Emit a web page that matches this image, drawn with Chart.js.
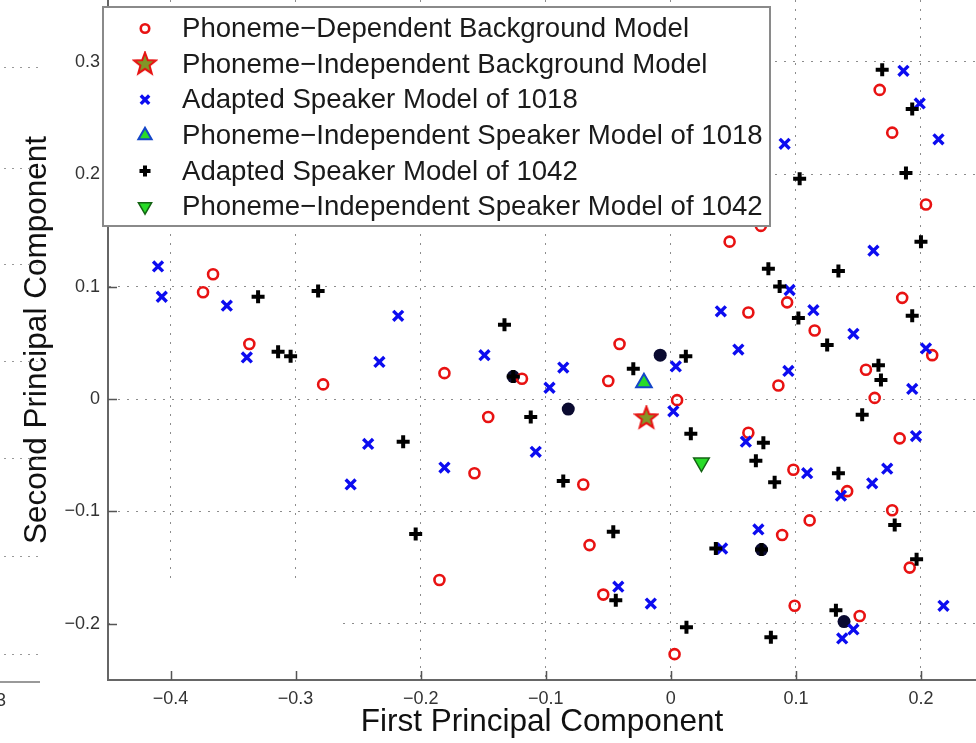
<!DOCTYPE html>
<html>
<head>
<meta charset="utf-8">
<script src="https://cdn.jsdelivr.net/npm/chart.js@4.4.1/dist/chart.umd.min.js"></script>
<style>
html, body { margin: 0; padding: 0; background: #fff; }
#c { display: block; }
</style>
</head>
<body>
<canvas id="c" width="976" height="743"></canvas>
<script>
'use strict';

// ---- data ----
var seriesLabels = [
	'Phoneme\u2212Dependent Background Model',
	'Phoneme\u2212Independent Background Model',
	'Adapted Speaker Model of 1018',
	'Phoneme\u2212Independent Speaker Model of 1018',
	'Adapted Speaker Model of 1042',
	'Phoneme\u2212Independent Speaker Model of 1042'
];

var bgDependent = [
	[-0.366, 0.111], [-0.374, 0.095], [-0.337, 0.049], [-0.278, 0.013],
	[-0.181, 0.023], [-0.119, 0.018], [-0.146, -0.016], [-0.041, 0.049],
	[-0.050, 0.016], [0.005, -0.001], [0.047, 0.140], [0.072, 0.154],
	[0.093, 0.086], [0.115, 0.061], [0.185, 0.090], [0.209, 0.039],
	[0.156, 0.026], [0.163, 0.001], [0.183, -0.035], [0.062, 0.077],
	[0.086, 0.012], [0.062, -0.030], [0.167, 0.275], [0.177, 0.237],
	[0.204, 0.173], [-0.157, -0.066], [-0.070, -0.076], [-0.185, -0.161],
	[-0.065, -0.130], [-0.054, -0.174], [0.003, -0.227], [0.098, -0.063],
	[0.141, -0.082], [0.177, -0.099], [0.111, -0.108], [0.089, -0.121],
	[0.191, -0.150], [0.099, -0.184], [0.151, -0.193]
];

var bgIndependent = [[-0.0195, -0.017]];

var speaker1018 = [
	[-0.410, 0.118], [-0.407, 0.091], [-0.355, 0.083], [-0.218, 0.074],
	[-0.339, 0.037], [-0.233, 0.033], [-0.242, -0.040], [-0.256, -0.076],
	[-0.149, 0.039], [-0.086, 0.028], [-0.097, 0.010], [-0.108, -0.047],
	[0.004, 0.029], [0.002, -0.011], [0.095, 0.097], [0.114, 0.079],
	[0.146, 0.058], [0.162, 0.132], [0.204, 0.045], [0.193, 0.009],
	[0.196, -0.033], [0.040, 0.078], [0.054, 0.044], [0.094, 0.025],
	[0.060, -0.038], [0.186, 0.292], [0.199, 0.263], [0.214, 0.231],
	[0.091, 0.227], [-0.181, -0.061], [-0.042, -0.167], [-0.016, -0.182],
	[0.109, -0.066], [0.136, -0.086], [0.161, -0.075], [0.173, -0.062],
	[0.070, -0.116], [0.041, -0.133], [0.218, -0.184], [0.146, -0.205],
	[0.137, -0.213]
];

var indep1018 = [[-0.0215, 0.0145]];

var speaker1042 = [
	[-0.330, 0.091], [-0.282, 0.096], [-0.314, 0.042], [-0.304, 0.038],
	[-0.133, 0.066], [-0.126, 0.020], [-0.112, -0.016], [-0.214, -0.038],
	[-0.030, 0.027], [0.012, 0.038], [0.016, -0.031], [0.078, 0.116],
	[0.087, 0.100], [0.102, 0.072], [0.125, 0.048], [0.134, 0.114],
	[0.200, 0.140], [0.193, 0.074], [0.166, 0.030], [0.168, 0.017],
	[0.153, -0.014], [0.074, -0.039], [0.068, -0.055], [0.169, 0.293],
	[0.193, 0.258], [0.188, 0.201], [0.103, 0.196], [-0.086, -0.073],
	[-0.204, -0.120], [-0.046, -0.118], [-0.044, -0.179], [0.0125, -0.203],
	[0.083, -0.074], [0.134, -0.066], [0.179, -0.112], [0.036, -0.133],
	[0.0725, -0.134], [0.1965, -0.1425], [0.132, -0.188], [0.080, -0.212]
];

var indep1042 = [[0.0245, -0.0566]];

// dark filled blobs that sit under some markers (no legend entry)
var darkBlobs = [
	[-0.0085, 0.039], [-0.082, -0.009], [0.1385, -0.198], [0.0725, -0.134], [-0.126, 0.020]
];

var xTicks = [-0.4, -0.3, -0.2, -0.1, 0, 0.1, 0.2];
var yTicks = [-0.2, -0.1, 0, 0.1, 0.2, 0.3];

var xTitle = 'First Principal Component';
var yTitle = 'Second Principal Component';

// ---- helpers ----
var FONT = '"Liberation Sans", Arial, Helvetica, sans-serif';

function pts(list) {
	return list.map(function (p) { return { x: p[0], y: p[1] }; });
}

function fmtTick(v) {
	var s = String(Math.round(v * 10) / 10);
	return s.replace('-', '\u2212');
}

function starImage(fill, stroke) {
	var c = document.createElement('canvas');
	c.width = c.height = 26;
	var g = c.getContext('2d');
	g.beginPath();
	for (var i = 0; i < 10; i++) {
		var r = i % 2 ? 4.8 : 11.5,
			a = -Math.PI / 2 + i * Math.PI / 5;
		g.lineTo(13 + r * Math.cos(a), 13 + r * Math.sin(a));
	}
	g.closePath();
	g.fillStyle = fill;
	g.fill();
	g.lineWidth = 2;
	g.strokeStyle = stroke;
	g.stroke();
	return c;
}

var RED = 'rgb(232,18,18)',
	BLUE = 'rgb(12,12,240)',
	BLACK = '#000',
	GREEN = 'rgb(40,220,40)';

var datasets = [
	{ label: seriesLabels[0], data: pts(bgDependent), pointStyle: 'circle', pointRadius: 5,
		borderWidth: 2.6, borderColor: RED, backgroundColor: 'rgba(0,0,0,0)', order: 6 },
	{ label: seriesLabels[1], data: pts(bgIndependent), pointStyle: starImage('rgb(130,150,40)', RED),
		pointRadius: 11, borderWidth: 0, borderColor: RED, backgroundColor: RED, order: 5 },
	{ label: seriesLabels[2], data: pts(speaker1018), pointStyle: 'crossRot', pointRadius: 7,
		borderWidth: 3.4, borderColor: BLUE, backgroundColor: BLUE, order: 4 },
	{ label: seriesLabels[3], data: pts(indep1018), pointStyle: 'triangle', pointRadius: 9,
		borderWidth: 2, borderColor: 'rgb(20,70,200)', backgroundColor: GREEN, order: 3 },
	{ label: seriesLabels[4], data: pts(speaker1042), pointStyle: 'cross', pointRadius: 6.5,
		borderWidth: 4, borderColor: BLACK, backgroundColor: BLACK, order: 2 },
	{ label: seriesLabels[5], data: pts(indep1042), pointStyle: 'triangle', rotation: 180, pointRadius: 9,
		borderWidth: 1.5, borderColor: 'rgb(20,100,20)', backgroundColor: GREEN, order: 1 },
	{ label: '', data: pts(darkBlobs), pointStyle: 'circle', pointRadius: 6.5,
		borderWidth: 0, borderColor: '#0a0a30', backgroundColor: '#0a0a30', order: 7, legendSkip: true }
];

// ---- plugins ----

// grid breaks seen in the source (blank patch in the lower-left corner)
var maskPatch = {
	id: 'maskPatch',
	beforeDatasetsDraw: function (chart) {
		var x = chart.scales.x, y = chart.scales.y, ctx = chart.ctx;
		var x0 = x.left + 2, x1 = x.getPixelForValue(-0.267),
			y0 = y.getPixelForValue(-0.164), y1 = y.bottom - 1;
		ctx.save();
		ctx.fillStyle = '#fff';
		ctx.fillRect(x0, y0, x1 - x0, y1 - y0);
		ctx.restore();
	}
};

// MATLAB style inward ticks
var innerTicks = {
	id: 'innerTicks',
	afterDatasetsDraw: function (chart) {
		var x = chart.scales.x, y = chart.scales.y, ctx = chart.ctx;
		ctx.save();
		ctx.strokeStyle = '#555';
		ctx.lineWidth = 1.5;
		ctx.beginPath();
		xTicks.forEach(function (v) {
			var px = Math.round(x.getPixelForValue(v)) + 0.5;
			ctx.moveTo(px, x.top);
			ctx.lineTo(px, x.top - 9);
		});
		yTicks.forEach(function (v) {
			var py = Math.round(y.getPixelForValue(v)) + 0.5;
			ctx.moveTo(y.right, py);
			ctx.lineTo(y.right + 9, py);
		});
		ctx.stroke();
		ctx.restore();
	}
};

// leftovers of the neighbouring figure at the left edge
var leftEdge = {
	id: 'leftEdge',
	afterDraw: function (chart) {
		var ctx = chart.ctx;
		ctx.save();
		ctx.strokeStyle = '#999';
		ctx.lineWidth = 1;
		ctx.setLineDash([2, 6]);
		[67, 168, 264, 361, 458, 556, 654].forEach(function (yy) {
			ctx.beginPath();
			ctx.moveTo(4, yy + 0.5);
			ctx.lineTo(40, yy + 0.5);
			ctx.stroke();
		});
		ctx.setLineDash([]);
		ctx.strokeStyle = '#777';
		ctx.lineWidth = 1.5;
		ctx.beginPath();
		ctx.moveTo(0, 682);
		ctx.lineTo(40, 682);
		ctx.stroke();
		ctx.fillStyle = '#333';
		ctx.font = '18px ' + FONT;
		ctx.textBaseline = 'middle';
		ctx.fillText('3', -4, 701);
		ctx.restore();
	}
};

// boxed legend inside the plot, upper left
var boxLegend = {
	id: 'boxLegend',
	afterDraw: function (chart) {
		var ctx = chart.ctx,
			bx = 103, by = 7, bw = 667, bh = 219,
			rowY = 21.5, rowH = 35.6;
		ctx.save();
		ctx.fillStyle = '#fff';
		ctx.fillRect(bx, by, bw, bh);
		ctx.strokeStyle = '#8a8a8a';
		ctx.lineWidth = 2;
		ctx.strokeRect(bx, by, bw, bh);
		ctx.font = '27.6px ' + FONT;
		ctx.textBaseline = 'middle';
		chart.data.datasets.forEach(function (ds, i) {
			if (ds.legendSkip) {
				return;
			}
			var cy = by + rowY + i * rowH;
			ctx.fillStyle = ds.backgroundColor;
			ctx.strokeStyle = ds.borderColor;
			ctx.lineWidth = ds.borderWidth;
			Chart.helpers.drawPoint(ctx, {
				pointStyle: ds.pointStyle,
				radius: ds.pointRadius * 0.85,
				borderWidth: ds.borderWidth,
				rotation: ds.rotation || 0
			}, 145, cy);
			ctx.fillStyle = '#1a1a1a';
			ctx.fillText(ds.label, 182, cy + 1);
		});
		ctx.restore();
	}
};

// ---- chart ----
new Chart(document.getElementById('c'), {
	type: 'scatter',
	data: { datasets: datasets },
	plugins: [maskPatch, innerTicks, boxLegend, leftEdge],
	options: {
		responsive: false,
		animation: false,
		devicePixelRatio: 1,
		layout: { padding: 0, autoPadding: false },
		plugins: {
			legend: { display: false },
			tooltip: { enabled: false }
		},
		scales: {
			x: {
				type: 'linear',
				min: -0.45,
				max: 0.244,
				afterBuildTicks: function (s) {
					s.ticks = xTicks.map(function (v) { return { value: v }; });
				},
				afterFit: function (s) {
					s.height = 63;
					s.paddingLeft = 0;
					s.paddingRight = 0;
				},
				ticks: {
					callback: fmtTick,
					padding: 8,
					color: '#333',
					font: { family: FONT, size: 18 },
					maxRotation: 0
				},
				grid: { color: '#8c8c8c', lineWidth: 1, drawTicks: false },
				border: { display: true, color: '#666', width: 2, dash: [2, 7] },
				title: {
					display: true,
					text: xTitle,
					color: '#111',
					font: { family: FONT, size: 31.5 },
					padding: { top: 0, bottom: 2 }
				}
			},
			y: {
				type: 'linear',
				min: -0.25,
				max: 0.355,
				afterBuildTicks: function (s) {
					s.ticks = yTicks.map(function (v) { return { value: v }; });
				},
				afterFit: function (s) {
					s.width = 108;
					s.paddingTop = 0;
					s.paddingBottom = 0;
				},
				ticks: {
					callback: fmtTick,
					padding: 8,
					color: '#333',
					font: { family: FONT, size: 18 }
				},
				grid: { color: '#8c8c8c', lineWidth: 1, drawTicks: false },
				border: { display: true, color: '#666', width: 2, dash: [2, 7] },
				title: {
					display: true,
					text: yTitle,
					color: '#111',
					font: { family: FONT, size: 31.5 },
					padding: { top: 18, bottom: 0 }
				}
			}
		}
	}
});
</script>
</body>
</html>
